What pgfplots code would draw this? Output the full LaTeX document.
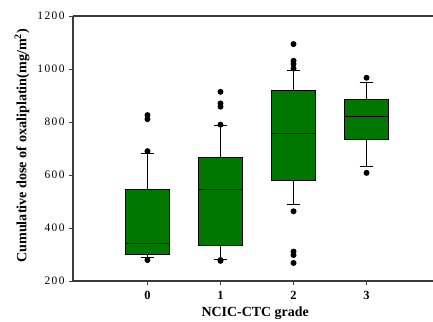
\documentclass[border=0pt]{standalone}
\usepackage{fontspec}
\setmainfont{Liberation Serif}
\usepackage{pgfplots}
\pgfplotsset{compat=1.18}
\usepgfplotslibrary{statistics}
\definecolor{boxgreen}{RGB}{0,120,0}
\definecolor{framegray}{RGB}{60,60,60}
\begin{document}
\begin{tikzpicture}
\begin{axis}[
  scale only axis, width=360bp, height=265bp,
  xmin=-1.02, xmax=3.91, ymin=200, ymax=1200,
  axis lines=left, axis line style={-, framegray, line width=1.1bp},
  xtick={0,1,2,3}, ytick={200,400,600,800,1000,1200},
  tick align=outside, major tick length=4bp,
  tick style={framegray, line width=0.9bp},
  /pgf/number format/assume math mode=true,
  /pgf/number format/1000 sep={},
  yticklabel style={font=\addfontfeature{LetterSpace=12}\fontsize{11.5}{12}\selectfont, xshift=-1bp},
  xticklabel style={font=\bfseries\fontsize{12.5}{13}\selectfont, yshift=-3bp},
  xlabel={NCIC-CTC grade},
  ylabel={Cumulative dose of oxaliplatin(mg/m$^{\mathbf 2}$)},
  every axis x label/.style={font=\bfseries\fontsize{14}{15}\selectfont, at={(rel axis cs:0.506,0)}, yshift=-32bp, anchor=center},
  every axis y label/.style={font=\bfseries\fontsize{14.2}{15}\selectfont, at={(rel axis cs:0,0.51)}, xshift=-51bp, rotate=90, anchor=center},
  boxplot/draw direction=y,
  boxplot/box extend=0.6,
  boxplot/whisker extend=0.19,
  clip=false,
]
\draw[framegray, line width=1.1bp] (rel axis cs:0,1) -- (rel axis cs:1,1);
\pgfplotsset{boxst/.style={fill=boxgreen, draw=black, line width=0.9bp, solid,
    mark=*, mark size=2.5bp, mark options={fill=black, draw=black, solid}}}
\addplot[boxst, boxplot prepared={draw position=0, lower whisker=288, lower quartile=302, median=341, upper quartile=546, upper whisker=682}]
  table[row sep=\\, y index=0] {data\\ 826\\ 811\\ 690\\ 279\\};
\addplot[boxst, boxplot prepared={draw position=1, lower whisker=283, lower quartile=335, median=546, upper quartile=668, upper whisker=788}]
  table[row sep=\\, y index=0] {data\\ 914\\ 870\\ 858\\ 790\\ 279\\ 276\\};
\addplot[boxst, boxplot prepared={draw position=2, lower whisker=488, lower quartile=578, median=758, upper quartile=920, upper whisker=996}]
  table[row sep=\\, y index=0] {data\\ 1094\\ 1031\\ 1019\\ 1002\\ 463\\ 311\\ 298\\ 268\\};
\addplot[boxst, boxplot prepared={draw position=3, lower whisker=633, lower quartile=733, median=821, upper quartile=886, upper whisker=950}]
  table[row sep=\\, y index=0] {data\\ 967\\ 608\\};
\end{axis}
\pgfresetboundingbox
\path ([shift={(-73bp,-41bp)}]current axis.south west) rectangle ([shift={(0bp,16bp)}]current axis.north east);
\end{tikzpicture}
\end{document}
